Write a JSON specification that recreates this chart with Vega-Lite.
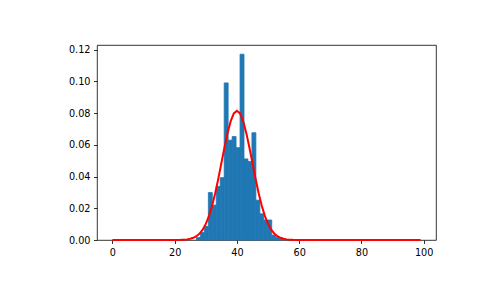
{
  "$schema": "https://vega.github.io/schema/vega-lite/v6.json",
  "width": 339,
  "height": 195,
  "autosize": {"type": "none"},
  "padding": {"left": 97, "top": 45, "right": 49, "bottom": 60},
  "background": "white",
  "config": {
    "view": {"stroke": "black", "strokeWidth": 0.8},
    "axis": {
      "domain": false,
      "grid": false,
      "ticks": true,
      "tickColor": "black",
      "tickSize": 3.5,
      "tickWidth": 0.8,
      "labelFont": "DejaVu Sans",
      "labelFontSize": 9.7,
      "labelColor": "black",
      "labelPadding": 3.5,
      "labelFlush": false,
      "labelOverlap": false,
      "title": null
    }
  },
  "datasets": {
    "bins": [
      {"lo": 27.000, "hi": 28.273, "density": 0.0016},
      {"lo": 28.273, "hi": 29.545, "density": 0.0047},
      {"lo": 29.545, "hi": 30.818, "density": 0.0086},
      {"lo": 30.818, "hi": 32.091, "density": 0.0299},
      {"lo": 32.091, "hi": 33.364, "density": 0.0220},
      {"lo": 33.364, "hi": 34.636, "density": 0.0338},
      {"lo": 34.636, "hi": 35.909, "density": 0.0393},
      {"lo": 35.909, "hi": 37.182, "density": 0.0990},
      {"lo": 37.182, "hi": 38.455, "density": 0.0629},
      {"lo": 38.455, "hi": 39.727, "density": 0.0652},
      {"lo": 39.727, "hi": 41.000, "density": 0.0582},
      {"lo": 41.000, "hi": 42.273, "density": 0.1171},
      {"lo": 42.273, "hi": 43.545, "density": 0.0511},
      {"lo": 43.545, "hi": 44.818, "density": 0.0495},
      {"lo": 44.818, "hi": 46.091, "density": 0.0676},
      {"lo": 46.091, "hi": 47.364, "density": 0.0251},
      {"lo": 47.364, "hi": 48.636, "density": 0.0165},
      {"lo": 48.636, "hi": 49.909, "density": 0.0126},
      {"lo": 49.909, "hi": 51.182, "density": 0.0126},
      {"lo": 51.182, "hi": 52.455, "density": 0.0031},
      {"lo": 52.455, "hi": 53.727, "density": 0.0016},
      {"lo": 53.727, "hi": 55.000, "density": 0.0008}
    ],
    "curve": [
      {"x": 0, "pdf": 0}, {"x": 5, "pdf": 0}, {"x": 10, "pdf": 0}, {"x": 15, "pdf": 0},
      {"x": 16, "pdf": 0}, {"x": 17, "pdf": 0.0000002}, {"x": 18, "pdf": 0.0000008},
      {"x": 19, "pdf": 0.0000083}, {"x": 20, "pdf": 0.0000196}, {"x": 21, "pdf": 0.0000441},
      {"x": 22, "pdf": 0.0000954}, {"x": 23, "pdf": 0.000198}, {"x": 24, "pdf": 0.000393},
      {"x": 25, "pdf": 0.000750}, {"x": 26, "pdf": 0.001372}, {"x": 27, "pdf": 0.002408},
      {"x": 28, "pdf": 0.004054}, {"x": 29, "pdf": 0.006546}, {"x": 30, "pdf": 0.01014},
      {"x": 31, "pdf": 0.01506}, {"x": 32, "pdf": 0.02147}, {"x": 33, "pdf": 0.02934},
      {"x": 34, "pdf": 0.03846}, {"x": 35, "pdf": 0.04837}, {"x": 36, "pdf": 0.05835},
      {"x": 37, "pdf": 0.06751}, {"x": 38, "pdf": 0.07492}, {"x": 39, "pdf": 0.07975},
      {"x": 40, "pdf": 0.08143}, {"x": 41, "pdf": 0.07975}, {"x": 42, "pdf": 0.07492},
      {"x": 43, "pdf": 0.06751}, {"x": 44, "pdf": 0.05835}, {"x": 45, "pdf": 0.04837},
      {"x": 46, "pdf": 0.03846}, {"x": 47, "pdf": 0.02934}, {"x": 48, "pdf": 0.02147},
      {"x": 49, "pdf": 0.01506}, {"x": 50, "pdf": 0.01014}, {"x": 51, "pdf": 0.006546},
      {"x": 52, "pdf": 0.004054}, {"x": 53, "pdf": 0.002408}, {"x": 54, "pdf": 0.001372},
      {"x": 55, "pdf": 0.000750}, {"x": 56, "pdf": 0.000393}, {"x": 57, "pdf": 0.000198},
      {"x": 58, "pdf": 0.0000954}, {"x": 59, "pdf": 0.0000441}, {"x": 60, "pdf": 0.0000196},
      {"x": 61, "pdf": 0.0000083}, {"x": 62, "pdf": 0.0000008}, {"x": 63, "pdf": 0.0000002},
      {"x": 64, "pdf": 0}, {"x": 65, "pdf": 0}, {"x": 70, "pdf": 0}, {"x": 75, "pdf": 0},
      {"x": 80, "pdf": 0}, {"x": 85, "pdf": 0}, {"x": 90, "pdf": 0}, {"x": 95, "pdf": 0},
      {"x": 99, "pdf": 0}
    ]
  },
  "layer": [
    {
      "data": {"name": "bins"},
      "mark": {"type": "bar", "color": "#1f77b4", "stroke": "#1f77b4", "strokeWidth": 0.8},
      "encoding": {
        "x": {
          "field": "lo", "type": "quantitative",
          "scale": {"domain": [-4.95, 103.95], "nice": false, "zero": false},
          "axis": {"values": [0, 20, 40, 60, 80, 100], "format": "d"}
        },
        "x2": {"field": "hi"},
        "y": {
          "field": "density", "type": "quantitative",
          "scale": {"domain": [0, 0.1229], "nice": false},
          "axis": {"values": [0, 0.02, 0.04, 0.06, 0.08, 0.1, 0.12], "format": ".2f", "tickCount": 7}
        },
        "y2": {"datum": 0}
      }
    },
    {
      "data": {"name": "curve"},
      "mark": {"type": "line", "color": "#ff0000", "strokeWidth": 2},
      "encoding": {
        "x": {
          "field": "x", "type": "quantitative",
          "axis": {"values": [0, 20, 40, 60, 80, 100], "format": "d"}
        },
        "y": {
          "field": "pdf", "type": "quantitative",
          "axis": {"values": [0, 0.02, 0.04, 0.06, 0.08, 0.1, 0.12], "format": ".2f", "tickCount": 7}
        }
      }
    }
  ]
}
